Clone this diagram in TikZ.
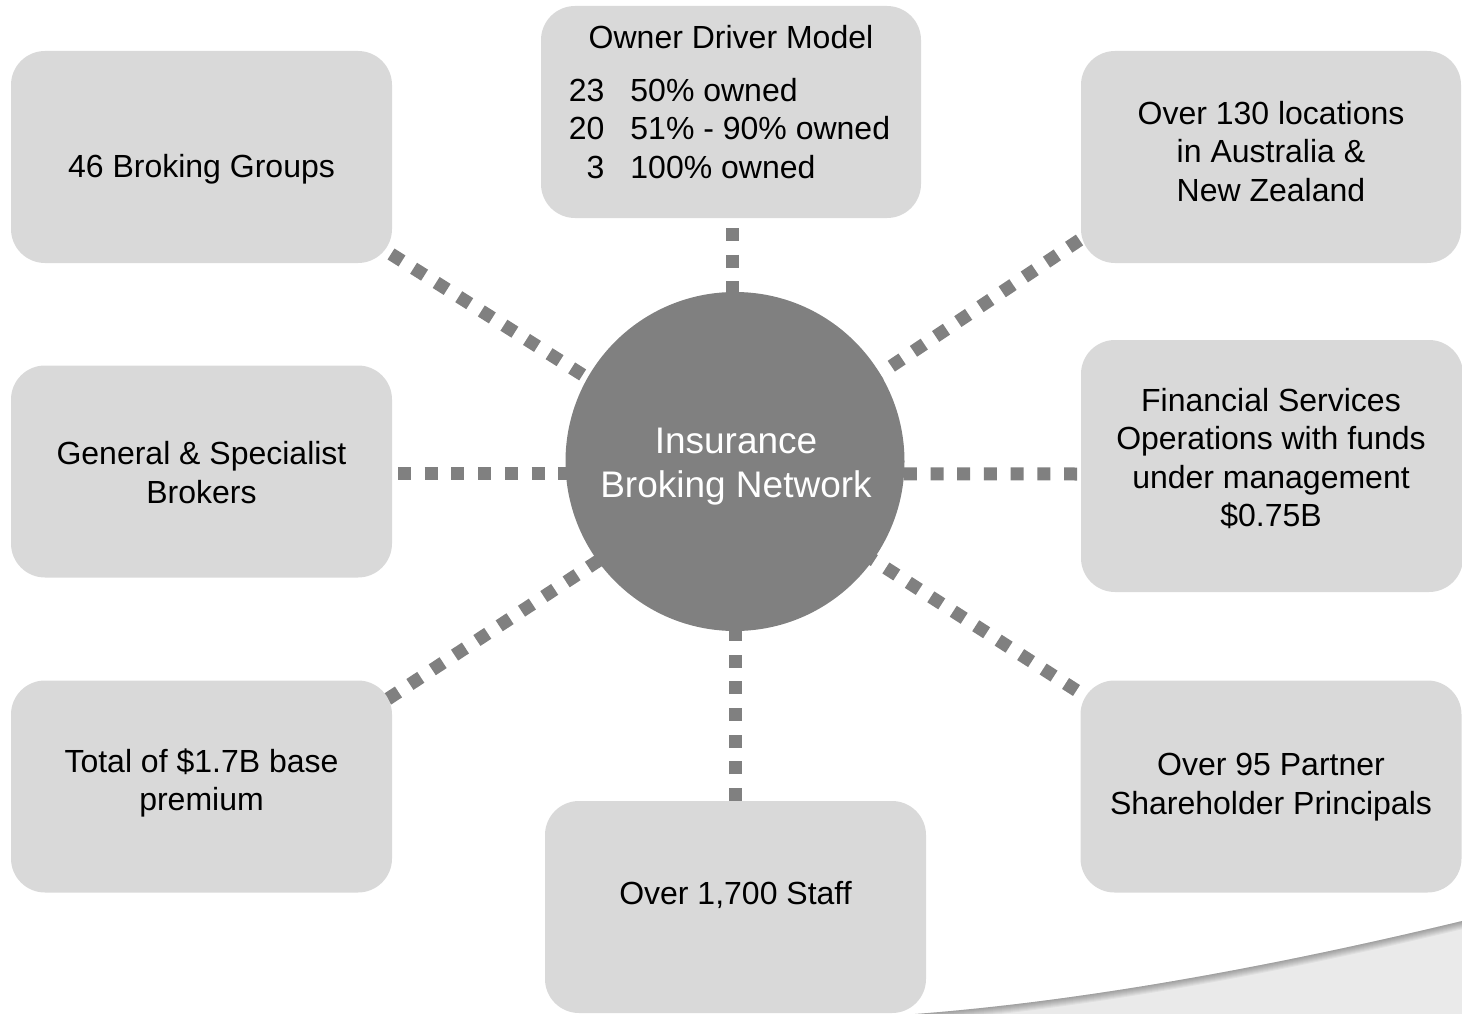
\documentclass[tikz,border=0pt]{standalone}
\usepackage{fontspec}
\setmainfont{Liberation Sans}
\usetikzlibrary{calc}
\pgfdeclarelayer{background}
\pgfsetlayers{background,main}
\definecolor{boxgray}{HTML}{D9D9D9}
\definecolor{hubgray}{HTML}{808080}
\definecolor{swooshgray}{HTML}{EAEAEA}
\begin{document}
\begin{tikzpicture}[x=1pt,y=-1pt,
  infobox/.style={fill=boxgray, draw=none, rounded corners=34pt, minimum width=381pt, minimum height=212pt, inner sep=0pt, outer sep=0pt},
  boxtext/.style={align=center, font=\fontsize{32}{38.5}\selectfont, text=black, inner sep=0pt},
  hubnode/.style={circle, fill=hubgray, minimum size=339pt, inner sep=0pt, outer sep=0pt},
  hubtext/.style={align=center, text=white, inner sep=0pt, font=\fontsize{37}{44}\selectfont},
  link/.style={draw=hubgray, line width=13pt, dash pattern=on 13pt off 13.7pt}
]
\useasboundingbox (0,0) rectangle (1462,1014);

% boxes
\node[infobox] (tl) at (201.5,157) {};
\node[infobox] (ml) at (201.5,471.5) {};
\node[infobox] (bl) at (201.5,786.5) {};
\node[infobox, minimum width=380pt] (own) at (731,112) {};
\node[infobox] (bot) at (735.5,907) {};
\node[infobox, minimum width=380pt] (tr) at (1271,157) {};
\node[infobox, minimum width=382pt, minimum height=252pt] (mr) at (1272,466) {};
\node[infobox] (br) at (1271,786.5) {};

% texts
\node[boxtext] (tlT) at (201.5,169) {46 Broking Groups};
\node[boxtext] (mlT) at (201.5,472.5) {General \& Specialist\\Brokers};
\node[boxtext] (blT) at (201.5,783) {Total of \$1.7B base\\premium};
\node[boxtext] (ownT) at (731,37) {Owner Driver Model};
\node[boxtext] (ownL) at (729.5,132.3) {\begin{tabular}{@{}r@{\hspace{26pt}}l@{}}23&50\% owned\\20&51\% - 90\% owned\\3&100\% owned\end{tabular}};
\node[boxtext] (botT) at (735.5,895) {Over 1,700 Staff};
\node[boxtext] (trT) at (1271,151.5) {Over 130 locations\\in Australia \&\\New Zealand};
\node[boxtext] (mrT) at (1271,458.5) {Financial Services\\Operations with funds\\under management\\\$0.75B};
\node[boxtext] (brT) at (1271,787) {Over 95 Partner\\Shareholder Principals};

% hub
\node[hubnode] (hub) at (735,461.5) {};
\node[hubtext] (hubT) at (736,466.5) {Insurance\\Broking Network};

\begin{pgfonlayer}{background}
  % swoosh
  \fill[swooshgray] (915,1014) .. controls (1100,1000) and (1300,960) .. (1462,921) -- (1462,1014) -- cycle;
  \begin{scope}
    \clip (915,1014) .. controls (1100,1000) and (1300,960) .. (1462,921) -- (1462,1014) -- cycle;
    \foreach \w in {2,4,...,16}
      \draw[black, opacity=0.045, line width=\w pt] (915,1014) .. controls (1100,1000) and (1300,960) .. (1462,921);
  \end{scope}
  % connectors
  \draw[link] ($(own.south)+(1,10)$) -- ($(hub.center)+(-3,0)$);
  \draw[link] ($(bot.north)+(-0.5,0)$) -- ($(hub.center)+(0,0)$);
  \draw[link] ($(ml.east)+(6,1.5)$) -- ($(hub.center)+(0,11.5)$);
  \draw[link] ($(mr.west)+(-4,8)$) -- ($(hub.center)+(0,12)$);
  \draw[link] ($(tl.south east)+(-1,-9)$) -- ($(hub.center)+(0,9.5)$);
  \draw[link] ($(tr.south west)+(-1.5,-23)$) -- ($(hub.center)+(0,9.5)$);
  \draw[link] ($(br.north west)+(-4,10)$) -- ($(hub.center)+(0,9.5)$);
  \draw[link] ($(bl.north east)+(-4.4,18.6)$) -- ($(hub.center)+(0,9.5)$);
\end{pgfonlayer}
\end{tikzpicture}
\end{document}
